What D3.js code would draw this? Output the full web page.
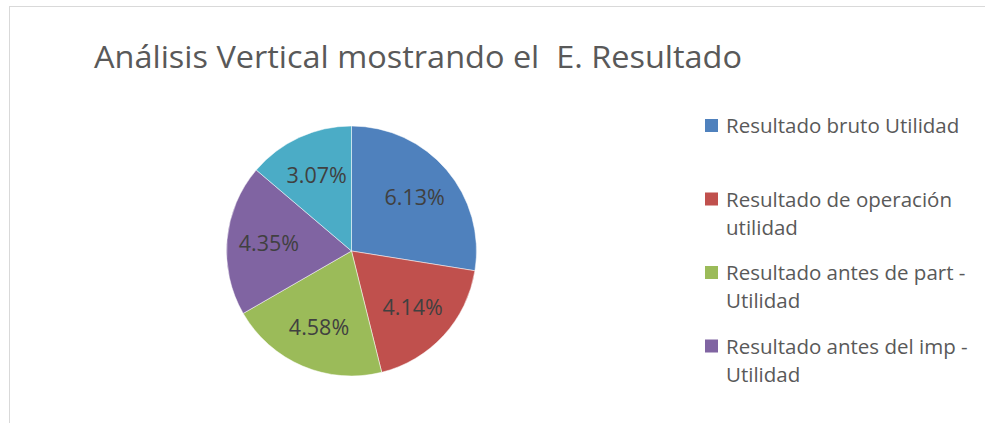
<!DOCTYPE html>
<html>
<head>
<meta charset="utf-8">
<script src="https://cdn.jsdelivr.net/npm/d3@7"></script>
<style>
  body { margin: 0; background: #fff; }
  svg { display: block; font-family: "Open Sans", "Noto Sans", sans-serif; }
</style>
</head>
<body>
<svg id="chart"></svg>
<script>
// chart values
var categories = [
    "Resultado bruto Utilidad",
    "Resultado de operación utilidad",
    "Resultado antes de part - Utilidad",
    "Resultado antes del imp - Utilidad",
    "Resultado neto Utilidad"
];
var values = [6.13, 4.14, 4.58, 4.35, 3.07];
var colors = ["#4F81BD", "#C0504D", "#9BBB59", "#8064A2", "#4BACC6"];
var title = "Análisis Vertical mostrando el  E. Resultado";

var width = 985, height = 423;
var svg = d3.select("#chart").attr("width", width).attr("height", height);

// chart frame (cut off at right / bottom in the original)
svg.append("rect")
    .attr("x", 9.5).attr("y", 6.5)
    .attr("width", width + 20).attr("height", height + 20)
    .attr("fill", "none").attr("stroke", "#d9d9d9").attr("stroke-width", 1);

svg.append("text")
    .attr("x", 94).attr("y", 68)
    .attr("font-size", 31)
    .attr("fill", "#595959")
    .style("white-space", "pre")
    .attr("textLength", 648).attr("lengthAdjust", "spacingAndGlyphs")
    .text(title);

//pie
var cx = 351.5, cy = 251, r = 125;
var pie = d3.pie().sort(null).value(d => d);
var arc = d3.arc().innerRadius(0).outerRadius(r);
var labelArc = d3.arc().innerRadius(83).outerRadius(83);
var arcs = pie(values);

var g = svg.append("g").attr("transform", `translate(${cx},${cy})`);
g.selectAll("path")
    .data(arcs)
    .enter()
    .append("path")
    .attr("d", arc)
    .attr("fill", (d, i) => colors[i])
    .attr("stroke", "#fff")
    .attr("stroke-width", 0.5);

g.selectAll("text")
    .data(arcs)
    .enter()
    .append("text")
    .attr("transform", d => `translate(${labelArc.centroid(d)})`)
    .attr("text-anchor", "middle")
    .attr("dy", "0.36em")
    .attr("font-size", 21.5)
    .attr("fill", "#404040")
    .text(d => d.data.toFixed(2) + "%");

// legend, each entry gets a two line slot; entries that do not fit are dropped
var legend = svg.append("g");
var lineH = 28.3, slot = 73.5, maxW = 256;
categories.forEach(function (name, i) {
    var y0 = 133 + slot * i;
    if (y0 + 6 > height) return;
    legend.append("rect")
        .attr("x", 705).attr("y", y0 - 14)
        .attr("width", 13).attr("height", 13)
        .attr("fill", colors[i]);
    var t = legend.append("text")
        .attr("x", 726).attr("y", y0)
        .attr("font-size", 20.5)
        .attr("fill", "#595959");
    // wrap words
    var words = name.split(" "), line = [], n = 0;
    var ts = t.append("tspan").attr("x", 726).attr("y", y0);
    words.forEach(function (w) {
        line.push(w);
        ts.text(line.join(" "));
        if (ts.node().getComputedTextLength() > maxW && line.length > 1) {
            line.pop();
            ts.text(line.join(" "));
            line = [w];
            n++;
            ts = t.append("tspan").attr("x", 726).attr("y", y0 + n * lineH).text(w);
        }
    });
});
</script>
</body>
</html>
